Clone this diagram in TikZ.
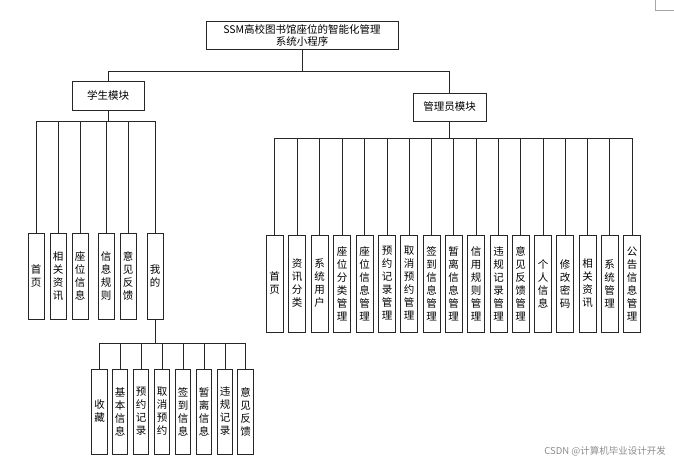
\documentclass[tikz,border=0pt]{standalone}
\usepackage{fontspec}
\setmainfont{Noto Sans CJK SC}
\begin{document}
\begin{tikzpicture}[x=1pt,y=-1pt,
  box/.style={draw=black!85,line width=0.9pt,inner sep=0pt,align=center,font=\fontsize{10.5}{13}\selectfont},
  vbox/.style={box,minimum width=16,minimum height=86},
  abox/.style={box,minimum width=17,minimum height=97},
  mbox/.style={box,minimum width=15.5,minimum height=85},
  link/.style={draw=black!85,line width=0.9pt}]
\useasboundingbox (0,0) rectangle (674,465);
% top
\node[box,minimum width=192,minimum height=28] (top) at (302,35) {SSM高校图书馆座位的智能化管理\\[-1pt]系统小程序};
\node[box,minimum width=72,minimum height=29] (stu) at (108,95.5) {学生模块};
\node[box,minimum width=73,minimum height=28] (adm) at (449.5,107) {管理员模块};
\coordinate (tbar) at (302,71);
\draw[link] (top.south) -- (tbar);
\draw[link] (tbar) -| (stu.north);
\draw[link] (tbar) -| (adm.north);
% student children
\coordinate (sbar) at (108,121);
\draw[link] (stu.south) -- (sbar);
\foreach \n/\x/\t in {s1/36/首\\页, s2/58/相\\关\\资\\讯, s3/80/座\\位\\信\\息, s4/106/信\\息\\规\\则, s5/128/意\\见\\反\\馈, mine/155/我\\的}{
  \node[vbox] (\n) at (\x,276) {\t};
  \draw[link] (sbar) -| (\n.north);
}
% mine children
\coordinate (mbar) at (155,343);
\draw[link] (mine.south) -- (mbar);
\foreach \n/\x/\t in {m1/99.5/收\\藏, m2/120/基\\本\\信\\息, m3/141/预\\约\\记\\录, m4/162/取\\消\\预\\约, m5/183/签\\到\\信\\息, m6/204/暂\\离\\信\\息, m7/225/违\\规\\记\\录, m8/245.5/意\\见\\反\\馈}{
  \node[mbox] (\n) at (\x,411.5) {\t};
  \draw[link] (mbar) -| (\n.north);
}
% admin children
\coordinate (abar) at (449.5,138);
\draw[link] (adm.south) -- (abar);
\foreach \n/\x/\t in {a1/274.5/首\\页, a2/297/资\\讯\\分\\类, a3/319.5/系\\统\\用\\户, a4/342/座\\位\\分\\类\\管\\理, a5/364.5/座\\位\\信\\息\\管\\理, a6/387/预\\约\\记\\录\\管\\理, a7/409/取\\消\\预\\约\\管\\理, a8/431.5/签\\到\\信\\息\\管\\理, a9/453.5/暂\\离\\信\\息\\管\\理, a10/476/信\\用\\规\\则\\管\\理, a11/498.5/违\\规\\记\\录\\管\\理, a12/520.5/意\\见\\反\\馈\\管\\理, a13/543/个\\人\\信\\息, a14/565/修\\改\\密\\码, a15/587.5/相\\关\\资\\讯, a16/609.5/系\\统\\管\\理, a17/632/公\\告\\信\\息\\管\\理}{
  \node[abox] (\n) at (\x,283.5) {\t};
  \draw[link] (abar) -| (\n.north);
}
% watermark and corner mark
\node[text=black!45,font=\fontsize{9.5}{11}\selectfont,anchor=east,inner sep=0pt] (wm) at (666,451) {CSDN @计算机毕业设计开发};
\coordinate (c1) at (655,0);
\coordinate (c2) at (655,10);
\coordinate (c3) at (674,10);
\draw[black!35,line width=0.6pt] (c1) -- (c2) -- (c3);
\end{tikzpicture}
\end{document}
